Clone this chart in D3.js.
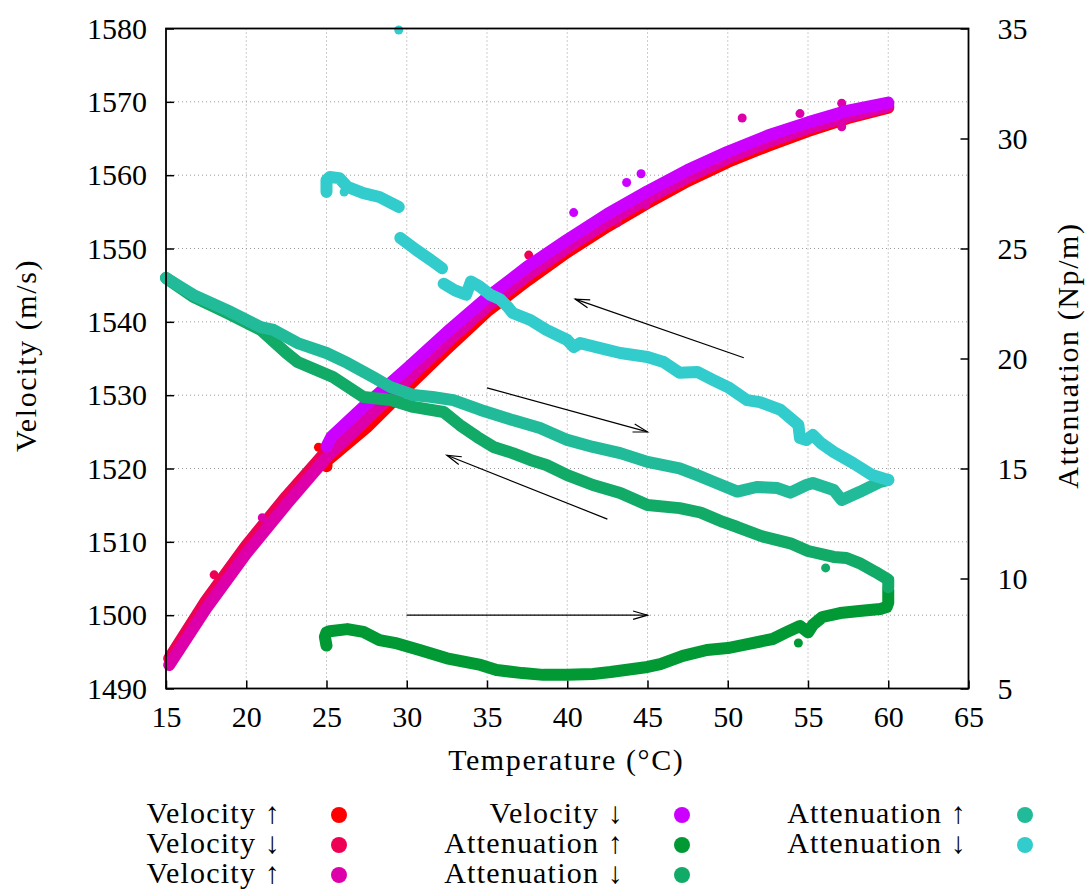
<!DOCTYPE html>
<html>
<head>
<meta charset="utf-8">
<script src="https://cdn.jsdelivr.net/npm/d3@7"></script>
<style>
  body { margin: 0; background: #fff; }
  text { font-family: "Liberation Serif", "Times New Roman", serif; fill: #000; }
</style>
</head>
<body>
<svg id="chart" width="1088" height="892"></svg>
<script>
// ---- data: temperature (°C) vs velocity (m/s) and attenuation (Np/m) ----
const tempTicks = [15, 20, 25, 30, 35, 40, 45, 50, 55, 60, 65];
const velTicks = [1490, 1500, 1510, 1520, 1530, 1540, 1550, 1560, 1570, 1580];
const attTicks = [5, 10, 15, 20, 25, 30, 35];

// velocity, heating run 1 (25 -> 60)
const velUp1 = [[25.0,1520.3],[25.0,1521.0],[27.5,1525.6],[30,1531.0],[32.5,1536.3],[35,1541.4],[37.5,1545.6],[40,1549.5],[42.5,1553.0],[45,1556.2],[47.5,1559.2],[50,1561.8],[52.5,1564.0],[55,1566.0],[57.5,1567.8],[60,1569.2]];
const velUp1Stray = [[24.5,1522.9]];
// velocity, cooling run 1 (60 -> 15)
const velDown1 = [[60,1569.7],[57.5,1568.6],[55,1567.1],[52.5,1565.2],[50,1563.0],[47.5,1560.4],[45,1557.5],[42.5,1554.3],[40,1550.8],[37.5,1547.0],[35,1542.8],[32.5,1538.0],[30,1532.8],[27.5,1527.6],[25,1522.4],[22.5,1516.2],[20,1509.5],[17.5,1502.0],[15.2,1494.1]];
const velDown1Stray = [[18.0,1505.5],[37.6,1549.1],[43.1,1553.5]];
// velocity, heating run 2 (15 -> 60)
const velUp2 = [[15.2,1493.2],[17.5,1500.9],[20,1508.4],[22.5,1515.1],[25,1521.5],[27.5,1526.7],[30,1532.0],[32.5,1537.2],[35,1542.1],[37.5,1546.3],[40,1550.1],[42.5,1553.6],[45,1556.8],[47.5,1559.7],[50,1562.3],[52.5,1564.5],[55,1566.4],[57.5,1568.0],[60,1569.4]];
const velUp2Stray = [[21.0,1513.3],[44.9,1556.0],[50.9,1567.8],[54.5,1568.4],[57.1,1569.8],[57.1,1566.6]];
// velocity, cooling run 2 (60 -> 25)
const velDown2 = [[60,1569.9],[57.5,1568.8],[55,1567.2],[52.5,1565.4],[50,1563.2],[47.5,1560.7],[45,1557.8],[42.5,1554.7],[40,1551.2],[37.5,1547.5],[35,1543.3],[32.5,1538.6],[30,1533.6],[27.5,1528.8],[25.3,1524.3],[25.0,1523.0]];
const velDown2Stray = [[40.4,1554.9],[43.7,1559.0],[44.6,1560.2]];

// attenuation, heating run 1 (25 -> 60)
const attUp1 = [[25.0,6.95],[24.9,7.35],[25.0,7.55],[25.2,7.6],[26.3,7.7],[27.3,7.57],[28.3,7.2],[29.4,7.05],[30.8,6.75],[32.5,6.37],[34.6,6.07],[35.6,5.84],[37.2,5.7],[38.5,5.62],[40.0,5.62],[41.6,5.66],[42.7,5.75],[45.0,5.98],[45.8,6.11],[47.2,6.48],[48.7,6.75],[50.0,6.84],[51.0,6.98],[52.2,7.16],[52.8,7.25],[53.7,7.57],[54.5,7.84],[55.0,7.55],[55.3,7.89],[55.9,8.25],[57.0,8.43],[58.2,8.52],[59.5,8.61],[59.9,8.7],[60.0,8.9],[60.0,9.5]];
const attUp1Stray = [[54.4,7.07]];
// attenuation, cooling run 1 (60 -> 15)
const attDown1 = [[60.0,9.6],[60.0,9.95],[59.2,10.3],[58.2,10.7],[57.4,10.93],[56.6,10.98],[55.0,11.25],[53.9,11.6],[52.2,11.9],[50.6,12.34],[49.7,12.57],[48.3,13.0],[47.0,13.2],[45.0,13.34],[43.3,13.89],[41.6,14.25],[40.0,14.7],[38.7,15.16],[37.7,15.39],[36.6,15.7],[35.4,15.98],[34.4,16.43],[33.3,16.98],[32.3,17.57],[30.4,17.8],[29.0,18.11],[27.3,18.25],[25.4,19.16],[23.2,19.84],[22.5,20.25],[20.9,21.3],[18.8,22.07],[16.7,22.8],[15.0,23.66]];
const attDown1Stray = [[56.1,10.48]];
// attenuation, heating run 2 (15 -> 60)
const attUp2 = [[15.0,23.66],[16.7,22.89],[18.8,22.2],[20.9,21.43],[21.7,21.3],[23.2,20.7],[25.0,20.25],[26.3,19.8],[27.9,19.16],[29.0,18.7],[30.4,18.34],[31.6,18.25],[32.9,18.11],[34.6,17.66],[36.6,17.2],[38.3,16.84],[40.0,16.3],[41.6,15.98],[43.3,15.7],[45.0,15.3],[47.0,15.01],[48.1,14.7],[49.1,14.4],[50.6,13.95],[51.8,14.16],[53.1,14.11],[53.9,13.9],[54.9,14.25],[55.3,14.34],[56.6,14.02],[57.1,13.57],[58.2,13.93],[59.5,14.39],[60.0,14.48]];
// attenuation, cooling run 2 (60 -> 25); null marks a break in the record
const attDown2 = [[60.0,14.48],[59.0,14.7],[57.8,15.25],[56.6,15.75],[55.8,16.16],[55.3,16.52],[54.9,16.3],[54.5,16.39],[54.4,16.98],[53.3,17.66],[52.0,18.02],[51.2,18.11],[50.1,18.66],[49.1,19.02],[48.1,19.39],[47.0,19.35],[46.0,19.84],[45.0,20.07],[43.3,20.25],[42.5,20.39],[40.8,20.7],[40.4,20.52],[40.0,20.84],[38.7,21.3],[37.7,21.75],[36.6,22.07],[36.3,22.34],[35.8,22.7],[35.2,22.9],[34.5,23.3],[34.0,23.5],[33.7,22.9],[33.0,23.1],[32.3,23.4],
  null,[32.2,24.1],[31.5,24.48],[30.6,24.93],[29.6,25.48],
  null,[29.5,26.89],[28.3,27.34],[27.3,27.52],[26.3,27.8],[25.8,28.2],[25.2,28.25],[25.0,28.11],[25.0,27.57]];
const attDown2Stray = [[29.5,34.93],[26.1,27.57]];

// direction arrows, in temperature / velocity coordinates
const arrows = [
  { from: [51.0, 1535.1], to: [40.5, 1543.1] },
  { from: [35.0, 1531.0], to: [45.0, 1525.0] },
  { from: [42.5, 1513.1], to: [32.5, 1521.8] },
  { from: [30.0, 1500.0], to: [45.0, 1500.0] }
];

const seriesNames = ["Velocity ↑", "Velocity ↓", "Velocity ↑", "Velocity ↓",
                     "Attenuation ↑", "Attenuation ↓", "Attenuation ↑", "Attenuation ↓"];
const seriesColors = ["#ff0000", "#ee0055", "#dd00aa", "#cc00ff",
                      "#009933", "#11aa66", "#22bb99", "#33cccc"];

// ---- layout ----
const svg = d3.select("#chart");
const plotL = 166, plotR = 968.5, plotT = 28.5, plotB = 688.5;
const x = d3.scaleLinear().domain([15, 65]).range([plotL, plotR]);
const yV = d3.scaleLinear().domain([1490, 1580]).range([plotB, plotT]);
const yA = d3.scaleLinear().domain([5, 35]).range([plotB, plotT]);

// grid
const grid = svg.append("g").attr("stroke", "#9a9a9a").attr("stroke-width", 1)
  .attr("stroke-dasharray", "1,3");
tempTicks.filter(t => t > 15 && t < 65).forEach(t => {
  grid.append("line").attr("x1", x(t)).attr("x2", x(t)).attr("y1", plotT).attr("y2", plotB);
});
velTicks.filter(v => v > 1490 && v < 1580).forEach(v => {
  grid.append("line").attr("x1", plotL).attr("x2", plotR).attr("y1", yV(v)).attr("y2", yV(v));
});

// axes with inward ticks
function styleAxis(g) {
  g.select(".domain").remove();
  g.selectAll(".tick line").attr("stroke", "#000").attr("stroke-width", 1.5);
  g.selectAll(".tick text").attr("font-size", 30).attr("font-family", "Liberation Serif, serif").attr("fill", "#000");
}
svg.append("g").attr("transform", `translate(${plotL},0)`)
  .call(d3.axisLeft(yV).tickValues(velTicks).tickSize(-8).tickPadding(19).tickFormat(d3.format("d")))
  .call(styleAxis);
svg.append("g").attr("transform", `translate(0,${plotB})`)
  .call(d3.axisBottom(x).tickValues(tempTicks).tickSize(-8).tickPadding(17).tickFormat(d3.format("d")))
  .call(styleAxis);
svg.append("g").attr("transform", `translate(${plotR},0)`)
  .call(d3.axisRight(yA).tickValues(attTicks).tickSize(-8).tickPadding(29).tickFormat(d3.format("d")))
  .call(styleAxis);

// data layer
const plot = svg.append("g");
function trace(data, color, yScale) {
  const line = d3.line().defined(d => d !== null)
    .x(d => x(d[0])).y(d => yScale(d[1]));
  plot.append("path").datum(data)
    .attr("d", line).attr("fill", "none").attr("stroke", color)
    .attr("stroke-width", 12).attr("stroke-linecap", "round").attr("stroke-linejoin", "round");
}
function dots(data, color, yScale, r) {
  plot.append("g").selectAll("circle").data(data).join("circle")
    .attr("cx", d => x(d[0])).attr("cy", d => yScale(d[1])).attr("r", r).attr("fill", color);
}
trace(velUp1, seriesColors[0], yV);   dots(velUp1Stray, seriesColors[0], yV, 4.5);
trace(velDown1, seriesColors[1], yV); dots(velDown1Stray, seriesColors[1], yV, 4.5);
trace(velUp2, seriesColors[2], yV);   dots(velUp2Stray, seriesColors[2], yV, 4.5);
trace(velDown2, seriesColors[3], yV); dots(velDown2Stray, seriesColors[3], yV, 4.5);
trace(attUp1, seriesColors[4], yA);   dots(attUp1Stray, seriesColors[4], yA, 4.5);
trace(attDown1, seriesColors[5], yA); dots(attDown1Stray, seriesColors[5], yA, 4.5);
trace(attUp2, seriesColors[6], yA);
trace(attDown2, seriesColors[7], yA); dots(attDown2Stray, seriesColors[7], yA, 4.5);

// arrows with open heads
const arrowG = svg.append("g").attr("stroke", "#000").attr("stroke-width", 1.2).attr("fill", "none");
arrows.forEach(a => {
  const x1 = x(a.from[0]), y1 = yV(a.from[1]), x2 = x(a.to[0]), y2 = yV(a.to[1]);
  arrowG.append("line").attr("x1", x1).attr("y1", y1).attr("x2", x2).attr("y2", y2);
  const ang = Math.atan2(y2 - y1, x2 - x1), len = 15, spread = 0.28;
  const p1 = [x2 - len * Math.cos(ang - spread), y2 - len * Math.sin(ang - spread)];
  const p2 = [x2 - len * Math.cos(ang + spread), y2 - len * Math.sin(ang + spread)];
  arrowG.append("path").attr("d", `M${p1[0]},${p1[1]}L${x2},${y2}L${p2[0]},${p2[1]}`);
});

// frame
svg.append("rect").attr("x", plotL).attr("y", plotT).attr("width", plotR - plotL).attr("height", plotB - plotT)
  .attr("fill", "none").attr("stroke", "#000").attr("stroke-width", 1.8);

// axis titles
const titleSize = 30, titleSpacing = "1.6px";
svg.append("text").attr("x", (plotL + plotR) / 2 - 1).attr("y", 770)
  .attr("text-anchor", "middle").attr("font-size", titleSize).attr("letter-spacing", titleSpacing)
  .text("Temperature (°C)");
svg.append("text").attr("transform", `translate(36,${(plotT + plotB) / 2 - 3}) rotate(-90)`)
  .attr("text-anchor", "middle").attr("font-size", titleSize).attr("letter-spacing", titleSpacing)
  .text("Velocity (m/s)");
svg.append("text").attr("transform", `translate(1078,${(plotT + plotB) / 2 - 3}) rotate(-90)`)
  .attr("text-anchor", "middle").attr("font-size", titleSize).attr("letter-spacing", titleSpacing)
  .text("Attenuation (Np/m)");

// legend: three columns, filled column by column
const colX = [339, 682, 1025], rowY = [815, 845, 875];
const legend = svg.append("g");
seriesNames.forEach((name, i) => {
  const c = Math.floor(i / 3), r = i % 3;
  legend.append("text").attr("x", colX[c] - 58).attr("y", rowY[r] + 8)
    .attr("text-anchor", "end").attr("font-size", 30).attr("letter-spacing", "1.2px").text(name);
  legend.append("circle").attr("cx", colX[c]).attr("cy", rowY[r]).attr("r", 8).attr("fill", seriesColors[i]);
});
</script>
</body>
</html>
